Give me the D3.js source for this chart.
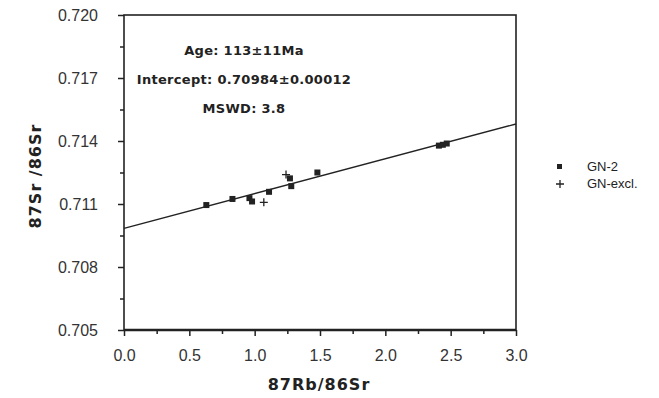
<!DOCTYPE html>
<meta charset="utf-8">
<html>
<head>
<style>
  body { margin: 0; background: #fff; }
  text { fill: #222; }
  .tick-label { font-family: "Liberation Sans", Arial, sans-serif; font-size: 16px; fill: #333; }
  .note { font-family: "DejaVu Sans", sans-serif; font-weight: bold; font-size: 13px; }
  .title { font-family: "DejaVu Sans", sans-serif; font-weight: bold; font-size: 16px; }
  .legend { font-family: "Liberation Sans", Arial, sans-serif; font-size: 13px; }
</style>
</head>
<body>
<svg width="659" height="398" id="chart"></svg>
<script src="https://d3js.org/d3.v7.min.js"></script>
<script>
// data
var gn2Rb = [0.63, 0.83, 0.96, 0.98, 1.11, 1.27, 1.28, 1.48, 2.41, 2.44, 2.47];
var gn2Sr = [0.71095, 0.71124, 0.71128, 0.71112, 0.71158, 0.71222, 0.71185, 0.71250, 0.71378, 0.71382, 0.71388];
var exclRb = [1.07, 1.24];
var exclSr = [0.71108, 0.71240];
var xTicks = [0, 0.5, 1, 1.5, 2, 2.5, 3];
var yTicks = [0.705, 0.708, 0.711, 0.714, 0.717, 0.720];
var intercept = 0.70984;
var slope = 0.001657;
var notes = ["Age: 113\u00b111Ma", "Intercept: 0.70984\u00b10.00012", "MSWD: 3.8"];
var legendNames = ["GN-2", "GN-excl."];

var svg = d3.select("#chart");
var x = d3.scaleLinear().domain([0, 3]).range([124, 516]);
var y = d3.scaleLinear().domain([0.705, 0.720]).range([330, 15]);
var ink = "#222";

// frame
svg.append("rect")
    .attr("x", x(0)).attr("y", y(0.720))
    .attr("width", x(3) - x(0)).attr("height", y(0.705) - y(0.720))
    .attr("fill", "none").attr("stroke", ink).attr("stroke-width", 1.6);
svg.append("line")
    .attr("x1", x(0)).attr("x2", x(3)).attr("y1", y(0.705)).attr("y2", y(0.705))
    .attr("stroke", ink).attr("stroke-width", 2.4);

/* x axis */
var xAxis = svg.append("g")
    .attr("transform", "translate(0," + y(0.705) + ")")
    .call(d3.axisBottom(x).tickValues(xTicks).tickSize(6).tickPadding(14)
        .tickFormat(d3.format(".1f")));
xAxis.select(".domain").remove();
xAxis.selectAll("line").attr("stroke", ink).attr("stroke-width", 1.5);
xAxis.selectAll("text").attr("class", "tick-label");
var xMinor = svg.append("g")
    .attr("transform", "translate(0," + y(0.705) + ")")
    .call(d3.axisBottom(x).tickValues([0.25, 0.75, 1.25, 1.75, 2.25, 2.75]).tickSize(4).tickFormat(""));
xMinor.select(".domain").remove();
xMinor.selectAll("line").attr("stroke", ink).attr("stroke-width", 1.5);

/* y axis */
var yAxis = svg.append("g")
    .attr("transform", "translate(" + x(0) + ",0)")
    .call(d3.axisLeft(y).tickValues(yTicks).tickSize(6).tickPadding(20)
        .tickFormat(d3.format(".3f")));
yAxis.select(".domain").remove();
yAxis.selectAll("line").attr("stroke", ink).attr("stroke-width", 1.5);
yAxis.selectAll("text").attr("class", "tick-label");
var yMinor = svg.append("g")
    .attr("transform", "translate(" + x(0) + ",0)")
    .call(d3.axisLeft(y).tickValues([0.7065, 0.7095, 0.7125, 0.7155, 0.7185]).tickSize(4).tickFormat(""));
yMinor.select(".domain").remove();
yMinor.selectAll("line").attr("stroke", ink).attr("stroke-width", 1.5);
svg.selectAll("g").attr("font-size", null).attr("font-family", null);

// regression line
svg.append("line")
    .attr("x1", x(0)).attr("y1", y(intercept))
    .attr("x2", x(3)).attr("y2", y(intercept + slope * 3))
    .attr("stroke", ink).attr("stroke-width", 1.4);

// GN-2 squares
var gn2 = gn2Rb.map(function (d, i) { return [d, gn2Sr[i]]; });
svg.selectAll(".gn2")
    .data(gn2).enter().append("rect")
    .attr("class", "gn2")
    .attr("x", function (d) { return x(d[0]) - 3; })
    .attr("y", function (d) { return y(d[1]) - 3; })
    .attr("width", 6).attr("height", 6)
    .attr("fill", ink);

// GN-excl crosses
var excl = exclRb.map(function (d, i) { return [d, exclSr[i]]; });
svg.selectAll(".excl")
    .data(excl).enter().append("path")
    .attr("class", "excl")
    .attr("d", function (d) {
        var px = x(d[0]), py = y(d[1]);
        return "M" + (px - 4) + "," + py + "H" + (px + 4) + "M" + px + "," + (py - 4) + "V" + (py + 4);
    })
    .attr("stroke", ink).attr("stroke-width", 1.3).attr("fill", "none");

// annotations
svg.selectAll(".note")
    .data(notes).enter().append("text")
    .attr("class", "note")
    .attr("x", 244)
    .attr("y", function (d, i) { return 55 + i * 29; })
    .attr("text-anchor", "middle")
    .style("letter-spacing", "0.3px")
    .text(function (d) { return d; });

// axis titles
svg.append("text").attr("class", "title")
    .attr("x", 319).attr("y", 390).attr("text-anchor", "middle")
    .style("letter-spacing", "1px")
    .text("87Rb/86Sr");
svg.append("text").attr("class", "title")
    .attr("transform", "translate(41,176) rotate(-90)").attr("text-anchor", "middle")
    .style("letter-spacing", "1px")
    .text("87Sr /86Sr");

// legend
var leg = svg.append("g");
leg.append("rect").attr("x", 557).attr("y", 164).attr("width", 5).attr("height", 5).attr("fill", ink);
leg.append("path").attr("d", "M556,184H564M560,180V188").attr("stroke", ink).attr("stroke-width", 1.3);
leg.selectAll(".legend")
    .data(legendNames).enter().append("text")
    .attr("class", "legend")
    .attr("x", 587)
    .attr("y", function (d, i) { return 171 + i * 17; })
    .text(function (d) { return d; });
</script>
</body>
</html>
